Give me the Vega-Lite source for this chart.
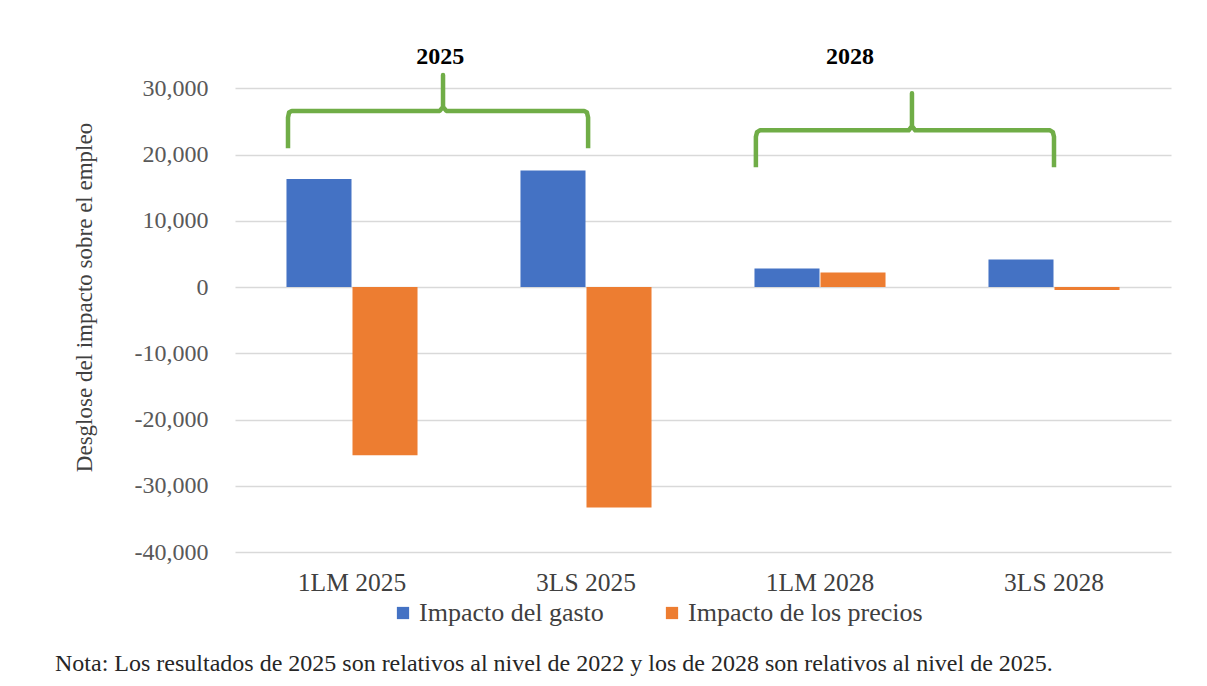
{
  "$schema": "https://vega.github.io/schema/vega-lite/v6.json",
  "autosize": {"type": "none"},
  "width": 936,
  "height": 510,
  "padding": {"left": 235, "top": 42, "right": 36, "bottom": 134},
  "background": "white",
  "config": {
    "font": "Liberation Serif",
    "view": {"stroke": null},
    "title": {"font": "Liberation Serif", "fontWeight": "normal"},
    "axis": {"labelFont": "Liberation Serif", "titleFont": "Liberation Serif"},
    "axisY": {
      "labelExpr": "replace(format(datum.value, ','), '\u2212', '-')",
      "labelFontSize": 24,
      "labelColor": "#595959",
      "labelPadding": 27,
      "ticks": false,
      "domain": false,
      "grid": true,
      "gridColor": "#D9D9D9",
      "gridWidth": 1.5
    }
  },
  "title": {
    "text": "Nota: Los resultados de 2025 son relativos al nivel de 2022 y los de 2028 son relativos al nivel de 2025.",
    "orient": "bottom",
    "anchor": "start",
    "frame": "group",
    "dx": -180,
    "offset": 26,
    "font": "Liberation Serif",
    "fontSize": 24,
    "fontWeight": "normal",
    "color": "#262626"
  },
  "datasets": {
    "bars": [
      {"escenario": "1LM 2025", "serie": "Impacto del gasto", "valor": 16300},
      {"escenario": "1LM 2025", "serie": "Impacto de los precios", "valor": -25400},
      {"escenario": "3LS 2025", "serie": "Impacto del gasto", "valor": 17600},
      {"escenario": "3LS 2025", "serie": "Impacto de los precios", "valor": -33300},
      {"escenario": "1LM 2028", "serie": "Impacto del gasto", "valor": 2800},
      {"escenario": "1LM 2028", "serie": "Impacto de los precios", "valor": 2200},
      {"escenario": "3LS 2028", "serie": "Impacto del gasto", "valor": 4150},
      {"escenario": "3LS 2028", "serie": "Impacto de los precios", "valor": -450}
    ],
    "brackets": [
      {"grupo": "2025", "orden": 1, "px": 0.2265, "py": 20950},
      {"grupo": "2025", "orden": 2, "px": 0.2265, "py": 25600},
      {"grupo": "2025", "orden": 3, "px": 0.231, "py": 26350},
      {"grupo": "2025", "orden": 4, "px": 0.243, "py": 26600},
      {"grupo": "2025", "orden": 5, "px": 0.875, "py": 26600},
      {"grupo": "2025", "orden": 6, "px": 0.889, "py": 27200},
      {"grupo": "2025", "orden": 7, "px": 0.889, "py": 32000},
      {"grupo": "2025", "orden": 8, "px": 0.889, "py": 27200},
      {"grupo": "2025", "orden": 9, "px": 0.903, "py": 26600},
      {"grupo": "2025", "orden": 10, "px": 1.492, "py": 26600},
      {"grupo": "2025", "orden": 11, "px": 1.504, "py": 26350},
      {"grupo": "2025", "orden": 12, "px": 1.509, "py": 25600},
      {"grupo": "2025", "orden": 13, "px": 1.509, "py": 20950},
      {"grupo": "2028", "orden": 1, "px": 2.226, "py": 18080},
      {"grupo": "2028", "orden": 2, "px": 2.226, "py": 22700},
      {"grupo": "2028", "orden": 3, "px": 2.231, "py": 23400},
      {"grupo": "2028", "orden": 4, "px": 2.243, "py": 23660},
      {"grupo": "2028", "orden": 5, "px": 2.879, "py": 23660},
      {"grupo": "2028", "orden": 6, "px": 2.893, "py": 24300},
      {"grupo": "2028", "orden": 7, "px": 2.893, "py": 29270},
      {"grupo": "2028", "orden": 8, "px": 2.893, "py": 24300},
      {"grupo": "2028", "orden": 9, "px": 2.907, "py": 23660},
      {"grupo": "2028", "orden": 10, "px": 3.483, "py": 23660},
      {"grupo": "2028", "orden": 11, "px": 3.495, "py": 23400},
      {"grupo": "2028", "orden": 12, "px": 3.500, "py": 22700},
      {"grupo": "2028", "orden": 13, "px": 3.500, "py": 18080}
    ],
    "etiquetas": [
      {"texto": "2025", "px": 0.877, "py": 34700},
      {"texto": "2028", "px": 2.628, "py": 34700}
    ]
  },
  "layer": [
    {
      "data": {"name": "bars"},
      "mark": {"type": "bar"},
      "encoding": {
        "x": {
          "field": "escenario",
          "type": "nominal",
          "sort": null,
          "scale": {"paddingInner": 0.44, "paddingOuter": 0.22},
          "axis": {
            "title": null,
            "labelAngle": 0,
            "labelFontSize": 25.5,
            "labelColor": "#404040",
            "labelPadding": 18,
            "ticks": false,
            "domain": false
          }
        },
        "xOffset": {
          "field": "serie",
          "type": "nominal",
          "sort": ["Impacto del gasto", "Impacto de los precios"],
          "scale": {"paddingInner": 0.015}
        },
        "y": {
          "field": "valor",
          "type": "quantitative",
          "scale": {"domain": [-40000, 37000], "nice": false, "zero": false},
          "axis": {
            "title": "Desglose del impacto sobre el empleo",
            "titleFontSize": 23,
            "titleFontWeight": "normal",
            "titleColor": "#404040",
            "titlePadding": 38,
            "values": [-40000, -30000, -20000, -10000, 0, 10000, 20000, 30000]
          }
        },
        "color": {
          "field": "serie",
          "type": "nominal",
          "sort": ["Impacto del gasto", "Impacto de los precios"],
          "scale": {"domain": ["Impacto del gasto", "Impacto de los precios"], "range": ["#4472C4", "#ED7D31"]},
          "legend": {
            "title": null,
            "orient": "none",
            "direction": "horizontal",
            "legendX": 155,
            "legendY": 558,
            "symbolType": "square",
            "symbolSize": 150,
            "symbolStrokeWidth": 0,
            "labelFont": "Liberation Serif",
            "labelFontSize": 26,
            "labelLimit": 500,
            "labelColor": "#404040",
            "labelOffset": 3,
            "columnPadding": 55
          }
        }
      }
    },
    {
      "data": {"name": "brackets"},
      "mark": {"type": "line", "color": "#70AD47", "strokeWidth": 4.5, "strokeJoin": "round", "strokeCap": "butt"},
      "encoding": {
        "x": {"field": "px", "type": "quantitative", "scale": {"domain": [0, 4], "nice": false, "zero": false}, "axis": null},
        "y": {"field": "py", "type": "quantitative"},
        "detail": {"field": "grupo"},
        "order": {"field": "orden", "type": "quantitative"}
      }
    },
    {
      "data": {"name": "etiquetas"},
      "mark": {"type": "text", "font": "Liberation Serif", "fontSize": 24, "fontWeight": "bold", "color": "#000000", "baseline": "middle", "align": "center"},
      "encoding": {
        "x": {"field": "px", "type": "quantitative", "scale": {"domain": [0, 4], "nice": false, "zero": false}, "axis": null},
        "y": {"field": "py", "type": "quantitative"},
        "text": {"field": "texto"}
      }
    }
  ],
  "resolve": {"scale": {"x": "independent"}, "axis": {"x": "independent"}}
}
